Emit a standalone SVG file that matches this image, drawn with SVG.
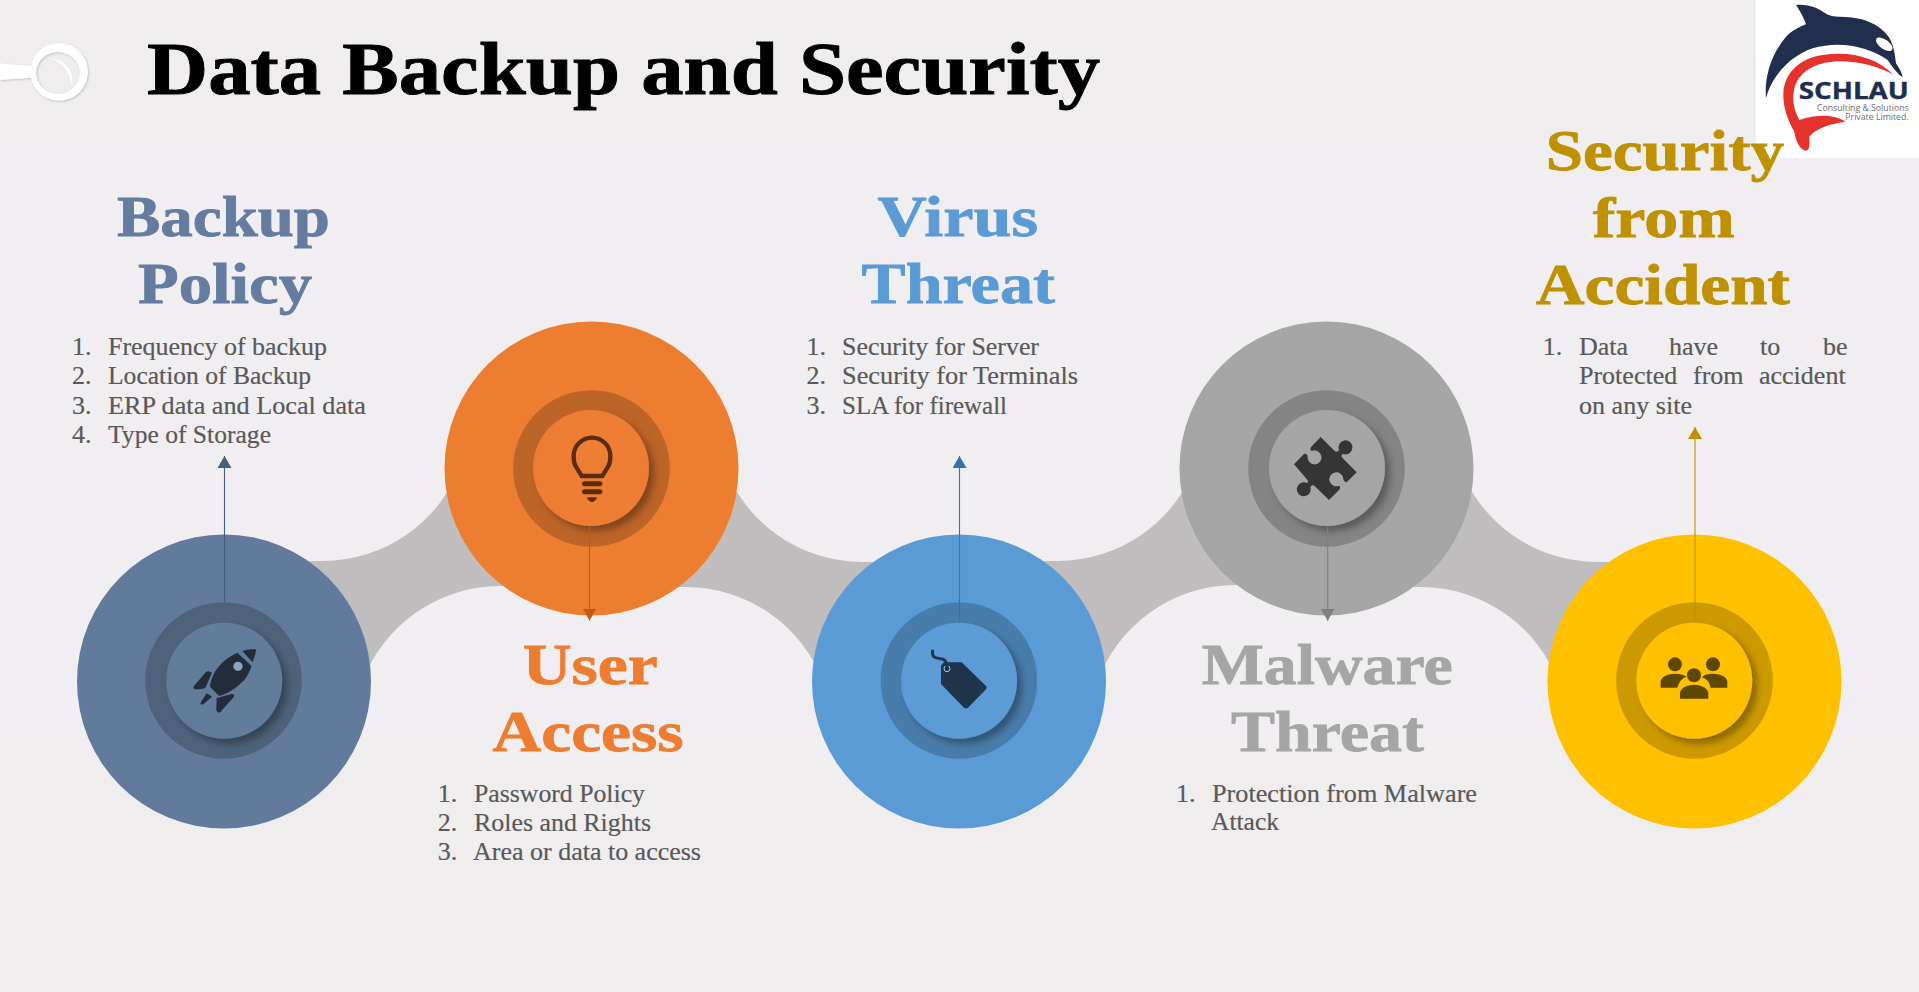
<svg xmlns="http://www.w3.org/2000/svg" width="1919" height="992" viewBox="0 0 1919 992">
<style>
text{font-family:"Liberation Serif","Times New Roman",serif}
.title{font-size:75px;font-weight:bold;fill:#000;stroke:#000;stroke-width:.9}
.head{font-size:57px;font-weight:bold;stroke-width:.8}
.slate{fill:#647C9F;stroke:#647C9F}
.orange{fill:#ED7D31;stroke:#ED7D31}
.blue{fill:#5B9BD5;stroke:#5B9BD5}
.gray{fill:#A5A5A5;stroke:#A5A5A5}
.gold{fill:#BF9000;stroke:#BF9000}
.body{font-size:26px;fill:#595959;stroke:#595959;stroke-width:.2}
.band{fill:#BFBDBE}
.ring{fill:#000;fill-opacity:.2}
.arrow{stroke-width:1.1;fill:none}
.logo{font-family:"Open Sans","Liberation Sans",sans-serif}
</style>
<defs>
<linearGradient id="bg" x1="0" y1="0" x2="0" y2="1">
<stop offset="0" stop-color="#EFEDEE"/><stop offset=".14" stop-color="#EFEDEE"/><stop offset=".15" stop-color="#F0EEF0"/><stop offset=".75" stop-color="#F0EEF0"/><stop offset=".78" stop-color="#EFEDEE"/><stop offset="1" stop-color="#EFEDEE"/>
</linearGradient>
<filter id="sh" x="-30%" y="-30%" width="170%" height="170%"><feDropShadow dx="5" dy="5" stdDeviation="3.500" flood-color="#000" flood-opacity=".32"/></filter>
<filter id="soft" x="-20%" y="-20%" width="140%" height="140%"><feDropShadow dx="1" dy="1" stdDeviation="1.2" flood-color="#000" flood-opacity=".2"/></filter>
<marker id="mSlate" markerUnits="userSpaceOnUse" markerWidth="12" markerHeight="14" refX="12" refY="7" orient="auto"><path d="M0,0L12,7L0,14Z" fill="#44607F"/></marker>
<marker id="mOrange" markerUnits="userSpaceOnUse" markerWidth="12" markerHeight="14" refX="12" refY="7" orient="auto"><path d="M0,0L12,7L0,14Z" fill="#C55A11"/></marker>
<marker id="mBlue" markerUnits="userSpaceOnUse" markerWidth="12" markerHeight="14" refX="12" refY="7" orient="auto"><path d="M0,0L12,7L0,14Z" fill="#2E75B6"/></marker>
<marker id="mGray" markerUnits="userSpaceOnUse" markerWidth="12" markerHeight="14" refX="12" refY="7" orient="auto"><path d="M0,0L12,7L0,14Z" fill="#7F7F7F"/></marker>
<marker id="mGold" markerUnits="userSpaceOnUse" markerWidth="12" markerHeight="14" refX="12" refY="7" orient="auto"><path d="M0,0L12,7L0,14Z" fill="#BF9000"/></marker>
</defs>
<rect width="1919" height="992" fill="url(#bg)"/>
<g id="key-ornament">
<path filter="url(#soft)" fill="#FFF" fill-rule="evenodd" d="M0,63.5L31,66A28.7,28.7 0 1 1 31,77.7L0,80ZM36,73a22,21 0 1 0 44,0a22,21 0 1 0 -44,0Z"/>
<path fill="#FFF" d="M50,58.5C63,58.5 75,70 71.5,85C70,72 63,62 50,58.5Z"/>
</g>
<text id="title" class="title" x="147" y="94" textLength="953" lengthAdjust="spacingAndGlyphs">Data Backup and Security</text>
<g id="bands">
<path class="band" d="M250,561H323A147,147 0 0 0 461,464L591,468L540,586H500A147,147 0 0 0 362,683L224,681Z"/>
<path class="band" d="M930,562H862A147,147 0 0 1 724,465L591,468L640,587H686A147,147 0 0 1 824,684L959,681Z"/>
<path class="band" d="M985,561H1058A147,147 0 0 0 1196,464L1326,468L1275,585H1235A147,147 0 0 0 1097,683L959,681Z"/>
<path class="band" d="M1665,562H1597A147,147 0 0 1 1459,465L1326,468L1375,587H1421A147,147 0 0 1 1559,684L1694,681Z"/>
</g>
<g id="node-backup-policy">
<circle cx="224" cy="681.500" r="147" fill="#627B9C"/>
<circle class="ring" cx="223.5" cy="680.5" r="78.3"/>
<circle cx="224.2" cy="680.7" r="58" fill="#627B9C" filter="url(#sh)"/>
<g transform="translate(130,580) scale(.3333)" fill="#232C38">
<path d="M322,218C290,232 262,258 250,285C244,298 241,310 240,320L267,348C285,345 330,320 350,290C358,276 364,262 364,257Z"/>
<circle cx="324" cy="259" r="14" fill="#8FA3BC"/>
<path d="M337,213C350,209 365,207 378,208C378,220 372,235 368,247Z"/>
<path d="M192,318L228,276Q236,270 246,278L227,322Q222,328 196,328Q187,326 192,318Z"/>
<path d="M260,354L305,342Q313,340 312,350L272,395Q262,402 259,390Z"/>
<path d="M213,366L230,340L246,350L220,373Q208,376 213,366Z"/>
</g>
<text class="head slate" x="117" y="236" textLength="213" lengthAdjust="spacingAndGlyphs">Backup</text>
<text class="head slate" x="138" y="303" textLength="174" lengthAdjust="spacingAndGlyphs">Policy</text>
<text class="body" x="72" y="355">1.</text><text class="body" x="108" y="355" textLength="219" lengthAdjust="spacingAndGlyphs">Frequency of backup</text>
<text class="body" x="72" y="384.3">2.</text><text class="body" x="108" y="384.3" textLength="203" lengthAdjust="spacingAndGlyphs">Location of Backup</text>
<text class="body" x="72" y="413.5">3.</text><text class="body" x="108" y="413.5" textLength="258" lengthAdjust="spacingAndGlyphs">ERP data and Local data</text>
<text class="body" x="72" y="442.7">4.</text><text class="body" x="108" y="442.7" textLength="163" lengthAdjust="spacingAndGlyphs">Type of Storage</text>
</g>
<g id="node-user-access">
<circle cx="591.5" cy="468.5" r="147" fill="#ED7D31"/>
<circle class="ring" cx="591.5" cy="468.5" r="78.3"/>
<circle cx="591" cy="468" r="58" fill="#ED7D31" filter="url(#sh)"/>
<g transform="translate(490,370) scale(.3333)" fill="#5A2C0E">
<path d="M275,318L258,290C250,278 251,268 251,258A55,55 0 0 1 361,258C361,268 362,278 354,290L337,318Z" fill="none" stroke="#5A2C0E" stroke-width="13"/>
<rect x="276" y="334" width="61" height="15" rx="7.5"/>
<rect x="276" y="358" width="61" height="15" rx="7.5"/>
<path d="M291,382H321C318,392 312,396 306,396C300,396 294,392 291,382Z"/>
</g>
<text class="head orange" x="522.7" y="683.500" textLength="135" lengthAdjust="spacingAndGlyphs">User</text>
<text class="head orange" x="492.5" y="750.7" textLength="191" lengthAdjust="spacingAndGlyphs">Access</text>
<text class="body" x="437.8" y="801.7">1.</text><text class="body" x="474" y="801.7" textLength="171" lengthAdjust="spacingAndGlyphs">Password Policy</text>
<text class="body" x="437.8" y="831">2.</text><text class="body" x="474" y="831" textLength="177" lengthAdjust="spacingAndGlyphs">Roles and Rights</text>
<text class="body" x="437.8" y="859.7">3.</text><text class="body" x="473" y="859.7" textLength="228" lengthAdjust="spacingAndGlyphs">Area or data to access</text>
</g>
<g id="node-virus-threat">
<circle cx="959" cy="681.500" r="147" fill="#5B9BD5"/>
<circle class="ring" cx="959" cy="680.5" r="78.3"/>
<circle cx="959" cy="680.7" r="58" fill="#5B9BD5" filter="url(#sh)"/>
<g transform="translate(860,580) scale(.3333)" fill="#1F3549">
<path d="M243,262C243,253 250,247 258,247L305,247L378,318Q382,323 378,328L324,383Q318,388 312,383L243,312Z"/>
<circle cx="261" cy="266" r="9" fill="#1F3549" stroke="#A8C8E6" stroke-width="3"/>
<path d="M218,213C214,240 235,232 250,238C258,242 261,250 261,262" fill="none" stroke="#1F3549" stroke-width="9" stroke-linecap="round"/>
</g>
<text class="head blue" x="877.5" y="236" textLength="160.500" lengthAdjust="spacingAndGlyphs">Virus</text>
<text class="head blue" x="861.6" y="303" textLength="193.400" lengthAdjust="spacingAndGlyphs">Threat</text>
<text class="body" x="806.500" y="355">1.</text><text class="body" x="842" y="355" textLength="197" lengthAdjust="spacingAndGlyphs">Security for Server</text>
<text class="body" x="806.500" y="384.3">2.</text><text class="body" x="842" y="384.3" textLength="236" lengthAdjust="spacingAndGlyphs">Security for Terminals</text>
<text class="body" x="806.500" y="413.5">3.</text><text class="body" x="842" y="413.5" textLength="165" lengthAdjust="spacingAndGlyphs">SLA for firewall</text>
</g>
<g id="node-malware-threat">
<circle cx="1326.5" cy="468.5" r="147" fill="#A5A5A5"/>
<circle class="ring" cx="1326.5" cy="468.5" r="78.3"/>
<circle cx="1327" cy="468" r="58" fill="#A5A5A5" filter="url(#sh)"/>
<g transform="translate(1230,370) scale(.3333)">
<path fill="#353535" d="M272,201L314,243C319,247 325,245 327,240A21,21 0 1 1 340,252C335,254 332,258 337,263L380,307L350,337C344,336 340,330 340,326A21,21 0 1 0 328,347C332,352 330,358 325,362L297,390L254,348C250,344 244,346 241,351A21,21 0 1 1 230,339C234,337 236,333 232,329L192,283L222,252C226,249 232,253 233,258A21,21 0 1 0 245,243C240,240 240,235 244,230Z"/>
</g>
<text class="head gray" x="1201.7" y="683.500" textLength="251" lengthAdjust="spacingAndGlyphs">Malware</text>
<text class="head gray" x="1231" y="750.7" textLength="193" lengthAdjust="spacingAndGlyphs">Threat</text>
<text class="body" x="1176" y="801.7">1.</text><text class="body" x="1212" y="801.7" textLength="265" lengthAdjust="spacingAndGlyphs">Protection from Malware</text>
<text class="body" x="1211" y="830.3" textLength="68" lengthAdjust="spacingAndGlyphs">Attack</text>
</g>
<g id="logo">
<rect x="1756" width="163" height="157.700" fill="#FFF"/>
<g transform="translate(1756,0) scale(.3333)">
<path fill="#222E4E" d="M120,15C150,12 180,20 205,38C220,48 235,50 250,50C300,50 350,60 385,95C410,120 415,145 420,190C430,205 438,218 440,232C425,222 412,205 395,180C340,140 250,120 170,145C110,165 50,220 30,295C25,240 40,170 90,110C105,95 130,80 150,73C145,55 130,30 120,15Z"/>
<ellipse cx="385" cy="133" rx="29" ry="14" transform="rotate(35 385 133)" fill="#FFF"/>
<path fill="#E5322D" d="M412,224C360,170 280,152 200,165C130,175 85,220 82,280C80,325 100,370 115,395C118,420 130,445 147,452C160,452 162,440 160,410C180,385 220,372 268,365C240,345 190,340 130,360C120,340 105,310 115,265C125,225 165,190 230,185C290,180 360,195 412,224Z"/>
</g>
<text class="logo" x="1798.700" y="99.300" font-size="23" font-weight="700" fill="#222E4E" stroke="#222E4E" stroke-width=".4" textLength="110" lengthAdjust="spacingAndGlyphs">SCHLAU</text>
<text class="logo" x="1817" y="110.700" font-size="8.500" fill="#6D6E71" textLength="91.700" lengthAdjust="spacingAndGlyphs">Consulting &amp; Solutions</text>
<text class="logo" x="1845.300" y="120" font-size="8.500" fill="#6D6E71" textLength="63.400" lengthAdjust="spacingAndGlyphs">Private Limited.</text>
</g>
<g id="node-security-from-accident">
<circle cx="1694.500" cy="681.500" r="147" fill="#FFC000"/>
<circle class="ring" cx="1694.500" cy="680.5" r="78.3"/>
<circle cx="1694.200" cy="680.7" r="58" fill="#FFC000" filter="url(#sh)"/>
<g transform="translate(1590,580) scale(.3333)" fill="#5E4800">
<circle cx="255" cy="253" r="21"/><circle cx="369" cy="253" r="21"/>
<path d="M212,323V305C212,290 235,281 255,281C270,281 282,284 290,290C275,295 268,305 262,323Z"/>
<path d="M412,323V305C412,290 390,281 369,281C355,281 342,284 336,292C350,297 358,305 362,323Z"/>
<circle cx="312" cy="286" r="21"/>
<path d="M270,356V340C270,325 290,314 312,314C334,314 355,325 355,340V356Z"/>
</g>
<text class="head gold" x="1545.700" y="170" textLength="238.300" lengthAdjust="spacingAndGlyphs">Security</text>
<text class="head gold" x="1592.700" y="236.700" textLength="142" lengthAdjust="spacingAndGlyphs">from</text>
<text class="head gold" x="1536" y="304" textLength="254" lengthAdjust="spacingAndGlyphs">Accident</text>
<text class="body" x="1542.700" y="355">1.</text>
<text class="body" y="355"><tspan x="1579">Data</tspan><tspan x="1669">have</tspan><tspan x="1760">to</tspan><tspan x="1823">be</tspan></text>
<text class="body" y="384.3"><tspan x="1579">Protected</tspan><tspan x="1693">from</tspan><tspan x="1759">accident</tspan></text>
<text class="body" x="1579" y="413.500" textLength="113" lengthAdjust="spacingAndGlyphs">on any site</text>
</g>
<g id="connectors">
<path class="arrow" d="M224.500,602V456" stroke="#44607F" marker-end="url(#mSlate)"/>
<path class="arrow" d="M589.500,526V620.500" stroke="#C55A11" marker-end="url(#mOrange)"/>
<path class="arrow" d="M959.500,622.700V456" stroke="#2E75B6" marker-end="url(#mBlue)"/>
<path class="arrow" d="M1327.700,526.700V620.700" stroke="#7F7F7F" marker-end="url(#mGray)"/>
<path class="arrow" d="M1695,622.700V427" stroke="#BF9000" marker-end="url(#mGold)"/>
</g>
</svg>
